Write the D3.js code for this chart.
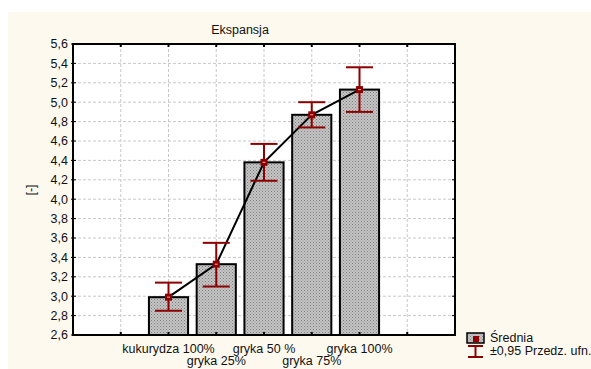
<!DOCTYPE html>
<html>
<head>
<meta charset="utf-8">
<script src="https://cdn.jsdelivr.net/npm/d3@7"></script>
<style>
  body { margin: 0; background: #fff; }
  svg { display: block; font-family: "Liberation Sans", Arial, sans-serif; }
</style>
</head>
<body>
<div id="chart"></div>
<script>
// data
const categories = ["kukurydza 100%", "gryka 25%", "gryka 50 %", "gryka 75%", "gryka 100%"];
const means = [2.99, 3.33, 4.38, 4.87, 5.13];
const ciLow = [2.85, 3.10, 4.19, 4.74, 4.90];
const ciHigh = [3.14, 3.55, 4.57, 5.00, 5.36];
const yTicks = [2.6, 2.8, 3.0, 3.2, 3.4, 3.6, 3.8, 4.0, 4.2, 4.4, 4.6, 4.8, 5.0, 5.2, 5.4, 5.6];

const width = 591, height = 369;
const margin = { left: 73, top: 44, right: 136, bottom: 34 };
const red = "#8e0000";
const fs = 12.5;

const svg = d3.select("#chart").append("svg")
  .attr("width", width)
  .attr("height", height);

// cream background panel
svg.append("rect")
  .attr("x", 8).attr("y", 12)
  .attr("width", width - 8).attr("height", height - 12)
  .attr("fill", "#fdf9ef");

const defs = svg.append("defs");
const pat = defs.append("pattern")
  .attr("id", "dots")
  .attr("patternUnits", "userSpaceOnUse")
  .attr("width", 3).attr("height", 3);
pat.append("rect").attr("width", 3).attr("height", 3).attr("fill", "#c4c4c4");
pat.append("rect").attr("x", 0).attr("y", 0).attr("width", 1).attr("height", 1).attr("fill", "#808080");
pat.append("rect").attr("x", 1.5).attr("y", 1.5).attr("width", 1).attr("height", 1).attr("fill", "#939393");

const pw = width - margin.left - margin.right;
const ph = height - margin.top - margin.bottom;

const x = d3.scalePoint()
  .domain(categories)
  .range([0, pw])
  .padding(2);

const y = d3.scaleLinear()
  .domain([2.6, 5.6])
  .range([ph, 0]);

const g = svg.append("g")
  .attr("transform", `translate(${margin.left}, ${margin.top})`);

g.append("rect")
  .attr("width", pw).attr("height", ph)
  .attr("fill", "#fff");

// grid positions: every step across the plot
const step = x.step();
const xGrid = d3.range(1, Math.round(pw / step)).map((k) => k * step);

g.selectAll(".vgrid")
  .data(xGrid)
  .join("line")
  .attr("class", "vgrid")
  .attr("x1", (d) => d).attr("x2", (d) => d)
  .attr("y1", 0).attr("y2", ph)
  .attr("stroke", "#c8c8c8")
  .attr("stroke-dasharray", "3,2");

g.selectAll(".hgrid")
  .data(yTicks.slice(1, -1))
  .join("line")
  .attr("class", "hgrid")
  .attr("x1", 0).attr("x2", pw)
  .attr("y1", (d) => y(d)).attr("y2", (d) => y(d))
  .attr("stroke", "#c8c8c8")
  .attr("stroke-dasharray", "3,2");

// bars
const bw = step * 0.82;
g.selectAll(".bar")
  .data(categories)
  .join("rect")
  .attr("class", "bar")
  .attr("x", (d) => x(d) - bw / 2)
  .attr("y", (d, i) => y(means[i]))
  .attr("width", bw)
  .attr("height", (d, i) => ph - y(means[i]))
  .attr("fill", "url(#dots)")
  .attr("stroke", "#000")
  .attr("stroke-width", 2);

// mean line
const line = d3.line()
  .x((d, i) => x(categories[i]))
  .y((d) => y(d));

g.append("path")
  .attr("d", line(means))
  .attr("fill", "none")
  .attr("stroke", "#000")
  .attr("stroke-width", 2);

// error bars
const capW = 27;
const err = g.selectAll(".err")
  .data(categories)
  .join("g")
  .attr("class", "err")
  .attr("stroke", red)
  .attr("stroke-width", 2);

err.append("line")
  .attr("x1", (d) => x(d)).attr("x2", (d) => x(d))
  .attr("y1", (d, i) => y(ciLow[i])).attr("y2", (d, i) => y(ciHigh[i]));
err.append("line")
  .attr("x1", (d) => x(d) - capW / 2).attr("x2", (d) => x(d) + capW / 2)
  .attr("y1", (d, i) => y(ciHigh[i])).attr("y2", (d, i) => y(ciHigh[i]));
err.append("line")
  .attr("x1", (d) => x(d) - capW / 2).attr("x2", (d) => x(d) + capW / 2)
  .attr("y1", (d, i) => y(ciLow[i])).attr("y2", (d, i) => y(ciLow[i]));

// mean markers
g.selectAll(".pt")
  .data(categories)
  .join("rect")
  .attr("class", "pt")
  .attr("x", (d) => x(d) - 3.5)
  .attr("y", (d, i) => y(means[i]) - 3.5)
  .attr("width", 7).attr("height", 7)
  .attr("fill", red);
g.selectAll(".ptc")
  .data(categories)
  .join("rect")
  .attr("class", "ptc")
  .attr("x", (d) => x(d) - 1.5)
  .attr("y", (d, i) => y(means[i]) - 0.5)
  .attr("width", 3).attr("height", 1)
  .attr("fill", "#e8b0b0");

// frame
g.append("rect")
  .attr("width", pw).attr("height", ph)
  .attr("fill", "none")
  .attr("stroke", "#000")
  .attr("stroke-width", 2);

// ticks on the frame
const tk = 3;
g.selectAll(".ytl")
  .data(yTicks)
  .join("line")
  .attr("x1", -2).attr("x2", tk)
  .attr("y1", (d) => y(d)).attr("y2", (d) => y(d))
  .attr("stroke", "#000");
g.selectAll(".ytr")
  .data(yTicks)
  .join("line")
  .attr("x1", pw - tk).attr("x2", pw)
  .attr("y1", (d) => y(d)).attr("y2", (d) => y(d))
  .attr("stroke", "#000");
g.selectAll(".xtt")
  .data(xGrid)
  .join("line")
  .attr("x1", (d) => d).attr("x2", (d) => d)
  .attr("y1", 0).attr("y2", tk)
  .attr("stroke", "#000").attr("stroke-width", 2);
g.selectAll(".xtb")
  .data(xGrid)
  .join("line")
  .attr("x1", (d) => d).attr("x2", (d) => d)
  .attr("y1", ph - tk).attr("y2", ph)
  .attr("stroke", "#000").attr("stroke-width", 2);

// y tick labels
const fmt = (v) => d3.format(".1f")(v).replace(".", ",");
g.selectAll(".ylab")
  .data(yTicks)
  .join("text")
  .attr("x", -5)
  .attr("y", (d) => y(d))
  .attr("dy", "0.35em")
  .attr("text-anchor", "end")
  .attr("font-size", fs)
  .attr("fill", "#111")
  .text(fmt);

// x labels, staggered in two rows
g.selectAll(".xlab")
  .data(categories)
  .join("text")
  .attr("x", (d) => x(d))
  .attr("y", (d, i) => ph + (i % 2 === 0 ? 18 : 30))
  .attr("text-anchor", "middle")
  .attr("font-size", fs)
  .attr("fill", "#111")
  .text((d) => d);

// title and y title
svg.append("text")
  .attr("x", 240).attr("y", 34)
  .attr("text-anchor", "middle")
  .attr("font-size", fs)
  .attr("fill", "#111")
  .text("Ekspansja");

svg.append("text")
  .attr("transform", "translate(35, 190) rotate(-90)")
  .attr("text-anchor", "middle")
  .attr("font-size", fs)
  .attr("fill", "#111")
  .text("[-]");

// legend
const lg = svg.append("g").attr("transform", "translate(467, 333)");
lg.append("rect")
  .attr("x", 0).attr("y", 0).attr("width", 17).attr("height", 10)
  .attr("fill", "url(#dots)").attr("stroke", "#000").attr("stroke-width", 1.5);
lg.append("rect")
  .attr("x", 6).attr("y", 3).attr("width", 6).attr("height", 6)
  .attr("fill", red);
lg.append("text")
  .attr("x", 23).attr("y", 9)
  .attr("font-size", fs).attr("fill", "#111")
  .text("Średnia");
const li = lg.append("g").attr("stroke", red).attr("stroke-width", 2);
li.append("line").attr("x1", 1).attr("x2", 16).attr("y1", 13).attr("y2", 13);
li.append("line").attr("x1", 1).attr("x2", 16).attr("y1", 24).attr("y2", 24);
li.append("line").attr("x1", 8.5).attr("x2", 8.5).attr("y1", 13).attr("y2", 24);
lg.append("text")
  .attr("x", 23).attr("y", 22)
  .attr("font-size", fs).attr("fill", "#111")
  .text("±0,95 Przedz. ufn.");
</script>
</body>
</html>
